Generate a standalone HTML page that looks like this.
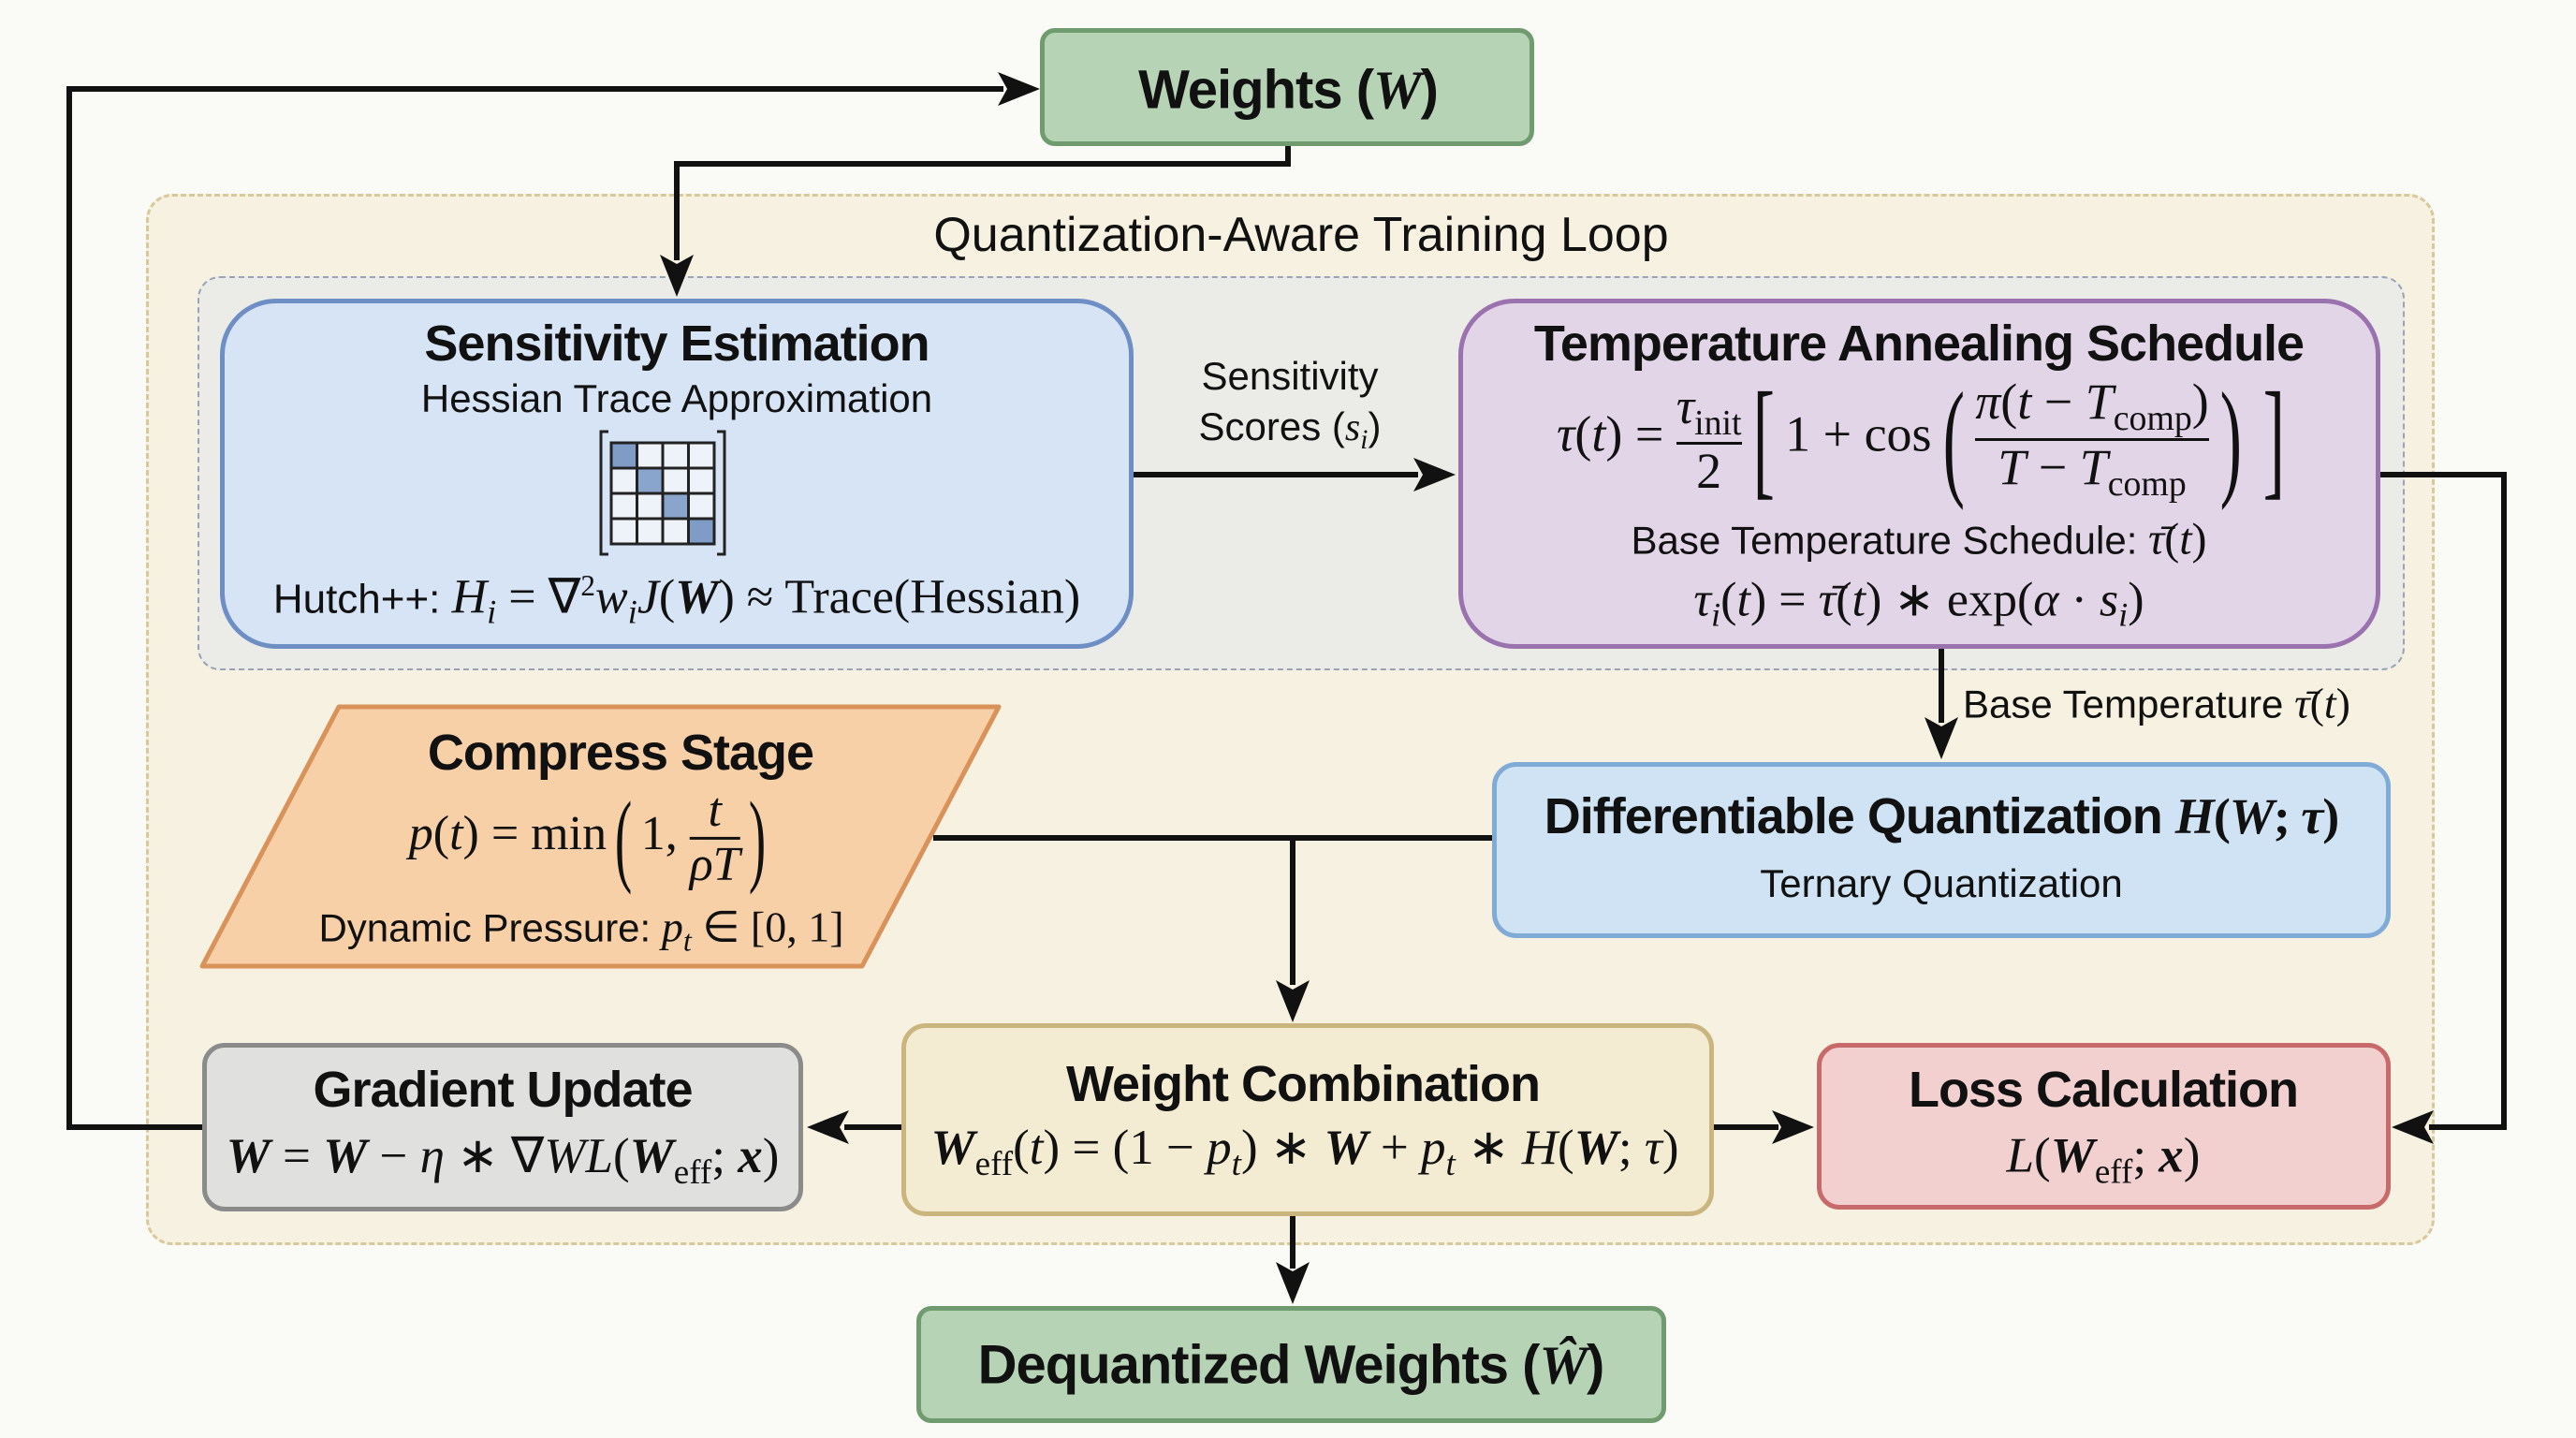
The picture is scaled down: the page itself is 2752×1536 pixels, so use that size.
<!DOCTYPE html>
<html><head><meta charset="utf-8">
<style>
*{margin:0;padding:0;box-sizing:border-box}
body{width:2752px;height:1536px;background:#fafaf6;position:relative;overflow:hidden;font-family:"Liberation Sans",sans-serif;color:#111}
.box{position:absolute;border-style:solid;border-width:5px}
.t{position:absolute;white-space:nowrap;transform:translate(-50%,-50%);text-align:center}
.b{font-weight:bold;font-size:54px;letter-spacing:-1px}
.r{font-size:42px}
.m{font-family:"Liberation Serif",serif;font-size:46px}
i{font-family:"Liberation Serif",serif}
.bi{font-family:"Liberation Serif",serif;font-weight:bold;font-style:italic}
.fr{display:inline-flex;flex-direction:column;vertical-align:middle;text-align:center;line-height:1.05}
.fr>span:last-child{border-top:3px solid #111}
.big{font-size:140px;line-height:1;vertical-align:middle;font-weight:100;transform:scaleX(.5);display:inline-block}
sub{font-size:.7em}
</style></head><body>

<div class="box" style="left:156px;top:207px;width:2445px;height:1123px;background:#f6f1e0;border:3px dashed #d8c99c;border-radius:28px"></div>
<div class="t" style="left:1390px;top:251px;font-size:52px">Quantization-Aware Training Loop</div>
<div class="box" style="left:211px;top:295px;width:2358px;height:421px;background:#ebebe8;border:2px dashed #9ba2b5;border-radius:24px"></div>

<div class="box" style="left:1111px;top:30px;width:528px;height:126px;background:#b6d3b5;border-color:#6f9b6e;border-radius:16px"></div>
<div class="box" style="left:235px;top:319px;width:976px;height:374px;background:#d6e4f5;border-color:#6e8fc5;border-radius:60px"></div>
<div class="box" style="left:1558px;top:319px;width:985px;height:374px;background:#e2d5e8;border-color:#9a72ae;border-radius:60px"></div>
<div class="box" style="left:1594px;top:814px;width:960px;height:188px;background:#cfe3f4;border-color:#80abd6;border-radius:26px"></div>
<div class="box" style="left:963px;top:1093px;width:868px;height:206px;background:#f4ecd2;border-color:#c9b57d;border-radius:26px"></div>
<div class="box" style="left:216px;top:1114px;width:642px;height:180px;background:#e0e0df;border-color:#8b8b8b;border-radius:24px"></div>
<div class="box" style="left:1941px;top:1114px;width:613px;height:178px;background:#f2d0d0;border-color:#c86a6a;border-radius:24px"></div>
<div class="box" style="left:979px;top:1395px;width:801px;height:125px;background:#b6d3b5;border-color:#6f9b6e;border-radius:16px"></div>

<svg width="2752" height="1536" style="position:absolute;left:0;top:0">
<polygon points="362,755 1067,755 921,1032 216,1032" fill="#f8d0a8" stroke="#d8925a" stroke-width="5" stroke-linejoin="round"/>
<g stroke="#111" stroke-width="6" fill="none">
<path d="M1376,156 V175 H723 V278"/>
<path d="M1211,507 H1515"/>
<path d="M2074,693 V772"/>
<path d="M2543,507 H2675 V1204 H2595"/>
<path d="M997,895 H1594"/>
<path d="M1381,895 V1052"/>
<path d="M963,1204 H902"/>
<path d="M1831,1204 H1900"/>
<path d="M216,1204 H74 V95 H1072"/>
<path d="M1381,1299 V1355"/>
</g>
<g fill="#111">
<path d="M723,317 L705,272 L723,282 L741,272 z"/>
<path d="M1555,507 L1510,489 L1520,507 L1510,525 z"/>
<path d="M2074,811 L2056,766 L2074,776 L2092,766 z"/>
<path d="M2555,1204 L2600,1186 L2590,1204 L2600,1222 z"/>
<path d="M1381,1092 L1363,1047 L1381,1057 L1399,1047 z"/>
<path d="M862,1204 L907,1186 L897,1204 L907,1222 z"/>
<path d="M1938,1204 L1893,1186 L1903,1204 L1893,1222 z"/>
<path d="M1111,95 L1066,77 L1076,95 L1066,113 z"/>
<path d="M1381,1393 L1363,1348 L1381,1358 L1399,1348 z"/>
</g>
<g>
<rect x="653" y="473" width="110" height="108" fill="#eef3fa"/>
<rect x="653" y="473" width="27.5" height="27" fill="#7f9cc6"/>
<rect x="680.5" y="500" width="27.5" height="27" fill="#8aa5cc"/>
<rect x="708" y="527" width="27.5" height="27" fill="#8aa5cc"/>
<rect x="735.5" y="554" width="27.5" height="27" fill="#7f9cc6"/>
<g stroke="#222" stroke-width="3" fill="none">
<rect x="653" y="473" width="110" height="108"/>
<path d="M680.5,473V581M708,473V581M735.5,473V581M653,500H763M653,527H763M653,554H763"/>
<path d="M650,461H642V592H650M766,461H774V592H766"/>
</g></g>
</svg>

<div class="t b" style="left:1376px;top:96px;font-size:58px">Weights (<span class="bi">W</span>)</div>
<div class="t b" style="left:1379px;top:1458px;font-size:58px">Dequantized Weights (<span class="bi">Ŵ</span>)</div>

<div class="t b" style="left:723px;top:367px">Sensitivity Estimation</div>
<div class="t r" style="left:723px;top:426px">Hessian Trace Approximation</div>
<div class="t r" style="left:723px;top:641px;font-size:44px">Hutch++: <span class="m" style="font-size:52px"><i>H<sub>i</sub></i> = ∇<sup style="font-size:.6em">2</sup><i>w<sub>i</sub>J</i>(<span class="bi">W</span>) ≈ Trace(Hessian)</span></div>

<div class="t r" style="left:1378px;top:436px;line-height:54px">Sensitivity<br>Scores (<i>s<sub>i</sub></i>)</div>

<div class="t b" style="left:2050px;top:367px">Temperature Annealing Schedule</div>
<div class="t m" style="left:2058px;top:469px;font-size:54px"><i>τ</i>(<i>t</i>) = <span class="fr"><span><i>τ</i><sub>init</sub></span><span>2</span></span><span class="big">[</span>1 + cos<span class="big">(</span><span class="fr"><span><i>π</i>(<i>t</i> − <i>T</i><sub>comp</sub>)</span><span><i>T</i> − <i>T</i><sub>comp</sub></span></span><span class="big">)</span><span class="big">]</span></div>
<div class="t r" style="left:2050px;top:576px">Base Temperature Schedule: <span class="m" style="font-size:48px"><i>τ̄</i>(<i>t</i>)</span></div>
<div class="t m" style="left:2050px;top:644px;font-size:52px"><i>τ<sub>i</sub></i>(<i>t</i>) = <i>τ̄</i>(<i>t</i>) ∗ exp(<i>α</i> · <i>s<sub>i</sub></i>)</div>

<div class="t r" style="left:2097px;top:751px;transform:translate(0,-50%)">Base Temperature <span class="m"><i>τ̄</i>(<i>t</i>)</span></div>

<div class="t b" style="left:663px;top:804px">Compress Stage</div>
<div class="t m" style="left:632px;top:895px;font-size:52px"><i>p</i>(<i>t</i>) = min<span class="big" style="font-size:110px">(</span>1, <span class="fr"><span><i>t</i></span><span><i>ρT</i></span></span><span class="big" style="font-size:110px">)</span></div>
<div class="t r" style="left:621px;top:993px">Dynamic Pressure: <span class="m"><i>p<sub>t</sub></i> ∈ [0, 1]</span></div>

<div class="t b" style="left:2074px;top:872px">Differentiable Quantization <span class="m" style="font-size:54px"><i>H</i>(<span class="bi">W</span>; <span class="bi">τ</span>)</span></div>
<div class="t r" style="left:2074px;top:944px">Ternary Quantization</div>

<div class="t b" style="left:537px;top:1164px">Gradient Update</div>
<div class="t m" style="left:537px;top:1239px;font-size:53px"><span class="bi">W</span> = <span class="bi">W</span> − <i>η</i> ∗ ∇<i>WL</i>(<span class="bi">W</span><sub>eff</sub>; <span class="bi">x</span>)</div>

<div class="t b" style="left:1392px;top:1158px">Weight Combination</div>
<div class="t m" style="left:1394px;top:1230px;font-size:53px"><span class="bi">W</span><sub>eff</sub>(<i>t</i>) = (1 − <i>p<sub>t</sub></i>) ∗ <span class="bi">W</span> + <i>p<sub>t</sub></i> ∗ <i>H</i>(<span class="bi">W</span>; <i>τ</i>)</div>

<div class="t b" style="left:2247px;top:1164px">Loss Calculation</div>
<div class="t m" style="left:2247px;top:1239px;font-size:53px"><i>L</i>(<span class="bi">W</span><sub>eff</sub>; <span class="bi">x</span>)</div>

</body></html>
